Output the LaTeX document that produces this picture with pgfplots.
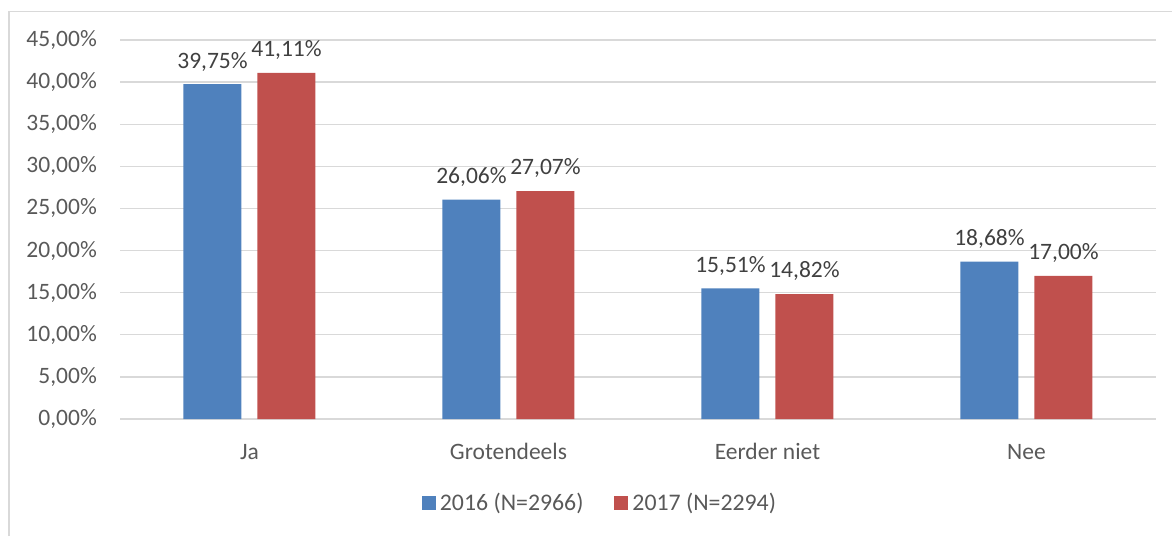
\documentclass[border=0pt]{standalone}
\usepackage{pgfplots}
\pgfplotsset{compat=1.18}
\usepackage{fontspec}
\setmainfont{Carlito}
\definecolor{barblue}{HTML}{4F81BD}
\definecolor{barred}{HTML}{C0504D}
\definecolor{gridgray}{HTML}{D9D9D9}
\definecolor{txtgray}{HTML}{595959}
\definecolor{lblgray}{HTML}{404040}
\pgfplotstableread{
x y
0 39.75
1 26.06
2 15.51
3 18.68
}\dataA
\pgfplotstableread{
x y
0 41.11
1 27.07
2 14.82
3 17.00
}\dataB
\begin{document}
\begin{tikzpicture}[x=1pt,y=1pt]
\useasboundingbox (0,0) rectangle (1172,536);
\draw[gridgray, line width=1.5pt] (9,0) -- (9,524.5) -- (1172,524.5);
\begin{axis}[
 at={(120pt,117pt)}, anchor=south west,
 width=1036pt, height=379pt, scale only axis,
 xmin=-0.5, xmax=3.5, ymin=0, ymax=45,
 ybar=16pt, bar width=58pt,
 xtick={0,1,2,3}, xticklabels={Ja,Grotendeels,Eerder niet,Nee},
 ytick={0,5,...,45},
 yticklabels={{0,00\%},{5,00\%},{10,00\%},{15,00\%},{20,00\%},{25,00\%},{30,00\%},{35,00\%},{40,00\%},{45,00\%}},
 axis line style={draw=none},
 major tick length=0pt,
 ymajorgrids, grid style={gridgray, line width=1.3pt},
 /pgf/number format/assume math mode=true,
 ticklabel style={font=\fontsize{23.5}{28}\selectfont, text=txtgray},
 yticklabel style={inner sep=0pt, xshift=-23pt},
 xticklabel style={inner sep=0pt, text height=16pt, text depth=5pt, yshift=-24pt},
 point meta=y,
 nodes near coords={\pgfmathprintnumber[fixed,fixed zerofill,precision=2,use comma]{\pgfplotspointmeta}\%},
 nodes near coords style={font=\fontsize{23.5}{28}\selectfont, text=lblgray, anchor=south, inner sep=0pt, text depth=0pt, yshift=16pt},
 legend style={draw=none, fill=none, at={(0.4633,-0.2216)}, anchor=center, legend columns=2,
   font=\fontsize{23.8}{28}\selectfont, text=txtgray,
   /tikz/every odd column/.append style={column sep=2pt},
   /tikz/every even column/.append style={column sep=29pt}},
 legend cell align=left,
 legend image code/.code={\fill[#1] (0pt,-7pt) rectangle (14pt,7pt);},
 clip=false,
]
\addplot[fill=barblue, draw=none] table[x=x,y=y] {\dataA};
\addplot[fill=barred, draw=none] table[x=x,y=y] {\dataB};
\legend{2016 (N=2966),2017 (N=2294)}
\end{axis}
\end{tikzpicture}
\end{document}
